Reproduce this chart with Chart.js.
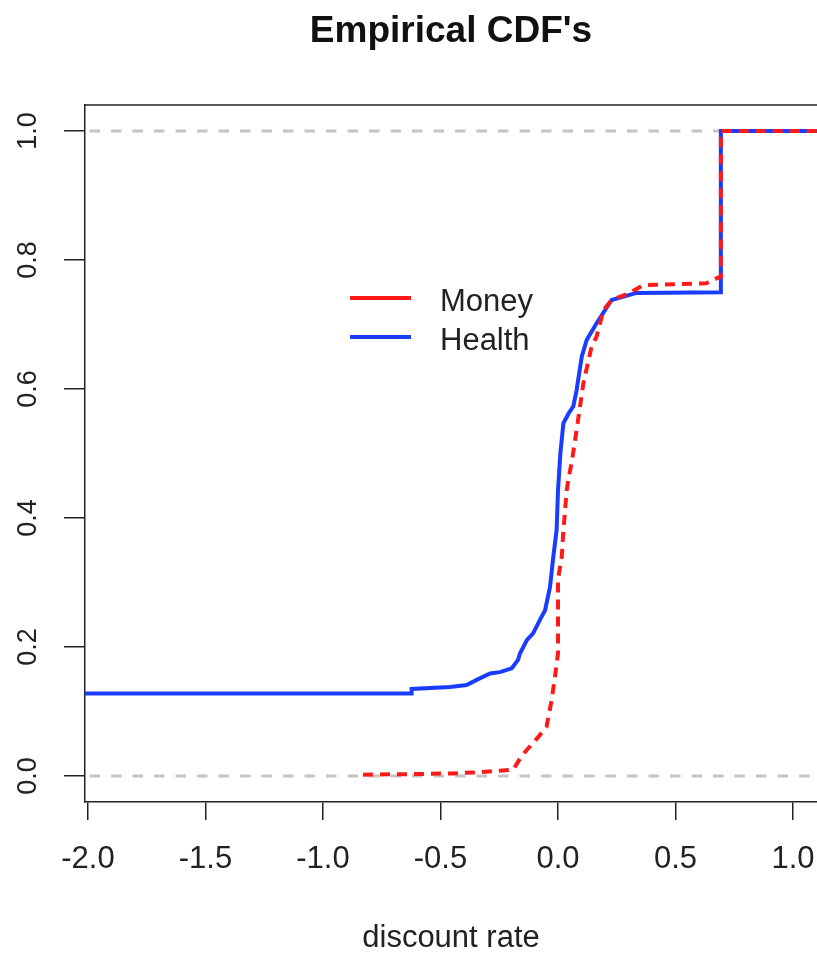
<!DOCTYPE html>
<html>
<head>
<meta charset="utf-8">
<title>Empirical CDF's</title>
<script src="https://cdn.jsdelivr.net/npm/chart.js@4.4.1/dist/chart.umd.min.js"></script>
<style>
  html, body { margin: 0; padding: 0; background: #fff; }
  canvas { display: block; }
</style>
</head>
<body>
<canvas id="ecdf" width="817" height="954"></canvas>
<script>
// Health (blue, solid) ECDF
var healthX = [-2.1, -0.623, -0.623, -0.46, -0.389, -0.346, -0.289, -0.247, -0.197, -0.17, -0.162, -0.132, -0.106, -0.077, -0.055, -0.034, -0.020, -0.006, 0.0, 0.01, 0.023, 0.045, 0.065, 0.079, 0.101, 0.122, 0.164, 0.228, 0.334, 0.693, 0.693, 1.2];
var healthY = [0.128, 0.128, 0.135, 0.138, 0.141, 0.149, 0.159, 0.161, 0.167, 0.18, 0.19, 0.211, 0.221, 0.242, 0.257, 0.293, 0.340, 0.381, 0.443, 0.50, 0.547, 0.562, 0.573, 0.598, 0.650, 0.676, 0.702, 0.738, 0.749, 0.750, 1.0, 1.0];

// Money (red, dashed) ECDF
var moneyX = [-0.83, -0.62, -0.45, -0.33, -0.25, -0.19, -0.16, -0.134, -0.09, -0.049, -0.027, -0.013, 0.0, 0.0, 0.016, 0.023, 0.037, 0.044, 0.06, 0.079, 0.108, 0.143, 0.164, 0.193, 0.228, 0.306, 0.362, 0.632, 0.689, 0.693, 0.693, 1.2];
var moneyY = [0.002, 0.003, 0.004, 0.006, 0.008, 0.010, 0.028, 0.040, 0.058, 0.076, 0.118, 0.154, 0.19, 0.305, 0.340, 0.381, 0.443, 0.459, 0.49, 0.536, 0.609, 0.666, 0.681, 0.722, 0.738, 0.749, 0.761, 0.764, 0.774, 0.774, 1.0, 1.0];

// horizontal reference lines at 0 and 1
var refLevels = [0, 1];

var xTicks = [-2.0, -1.5, -1.0, -0.5, 0.0, 0.5, 1.0];
var yTicks = [0.0, 0.2, 0.4, 0.6, 0.8, 1.0];

function pts(xs, ys) {
  return xs.map(function (x, i) { return {x: x, y: ys[i]}; });
}

Chart.defaults.font.family = '"Liberation Sans", Arial, Helvetica, sans-serif';
Chart.defaults.color = '#222';

var datasets = [
  {
    label: 'Money',
    data: pts(moneyX, moneyY),
    borderColor: '#ff1a1a',
    backgroundColor: '#ff1a1a',
    borderWidth: 4,
    borderDash: [10, 7],
    pointRadius: 0,
    tension: 0,
    order: 1
  },
  {
    label: 'Health',
    data: pts(healthX, healthY),
    borderColor: '#1a3cff',
    backgroundColor: '#1a3cff',
    borderWidth: 4,
    pointRadius: 0,
    tension: 0,
    order: 2
  }
];
refLevels.forEach(function (lv) {
  datasets.push({
    label: '',
    data: [{x: -3, y: lv}, {x: 2, y: lv}],
    borderColor: '#c4c4c4',
    borderWidth: 3,
    borderDash: [10.5, 11],
    pointRadius: 0,
    order: 3,
    isRef: true
  });
});

var extras = {
  id: 'extras',
  afterDraw: function (chart) {
    var ctx = chart.ctx, a = chart.chartArea;
    ctx.save();
    // top of the box
    ctx.strokeStyle = '#222';
    ctx.lineWidth = 1.5;
    ctx.beginPath();
    ctx.moveTo(a.left, a.top);
    ctx.lineTo(a.right, a.top);
    ctx.stroke();
    // title
    ctx.fillStyle = '#111';
    ctx.font = 'bold 37px "Liberation Sans", Arial, sans-serif';
    ctx.textAlign = 'center';
    ctx.textBaseline = 'alphabetic';
    ctx.fillText("Empirical CDF's", (a.left + a.right) / 2, 42);
    // legend (no box), lines drawn solid
    var rows = chart.data.datasets.filter(function (d) { return !d.isRef; });
    ctx.font = '31px "Liberation Sans", Arial, sans-serif';
    ctx.textAlign = 'left';
    rows.forEach(function (d, i) {
      var y = 298 + i * 39;
      ctx.strokeStyle = d.borderColor;
      ctx.lineWidth = 4;
      ctx.setLineDash([]);
      ctx.beginPath();
      ctx.moveTo(350, y);
      ctx.lineTo(411, y);
      ctx.stroke();
      ctx.fillStyle = '#222';
      ctx.fillText(d.label, 440, y + 13);
    });
    ctx.restore();
  }
};

new Chart(document.getElementById('ecdf'), {
  type: 'line',
  data: { datasets: datasets },
  plugins: [extras],
  options: {
    responsive: false,
    animation: false,
    layout: { padding: { top: 105, left: 0, right: 0, bottom: 0 } },
    plugins: {
      legend: { display: false },
      tooltip: { enabled: false },
      title: { display: false }
    },
    scales: {
      x: {
        type: 'linear',
        min: -2.0128,
        max: 1.1021,
        afterBuildTicks: function (s) { s.ticks = xTicks.map(function (v) { return {value: v}; }); },
        afterFit: function (s) { s.height = 152; s.paddingLeft = 0; s.paddingRight = 0; },
        ticks: {
          autoSkip: false,
          maxRotation: 0,
          padding: 21,
          font: { size: 31 },
          color: '#222',
          callback: function (v) { return v.toFixed(1); }
        },
        grid: { drawOnChartArea: false, drawTicks: true, tickLength: 18, color: '#222', lineWidth: 1.5 },
        border: { display: true, color: '#222', width: 1.5 },
        title: {
          display: true,
          text: 'discount rate',
          font: { size: 31, lineHeight: 1 },
          color: '#222',
          padding: { top: 0, bottom: 0 }
        }
      },
      y: {
        type: 'linear',
        min: -0.0403,
        max: 1.0403,
        afterBuildTicks: function (s) { s.ticks = yTicks.map(function (v) { return {value: v}; }); },
        afterFit: function (s) { s.width = 85; s.paddingTop = 0; s.paddingBottom = 0; },
        ticks: {
          minRotation: 90,
          maxRotation: 90,
          crossAlign: 'center',
          padding: 17,
          font: { size: 27 },
          color: '#222',
          callback: function (v) { return v.toFixed(1); }
        },
        grid: { drawOnChartArea: false, drawTicks: true, tickLength: 21, color: '#222', lineWidth: 1.5 },
        border: { display: true, color: '#222', width: 1.5 }
      }
    }
  }
});
</script>
</body>
</html>
